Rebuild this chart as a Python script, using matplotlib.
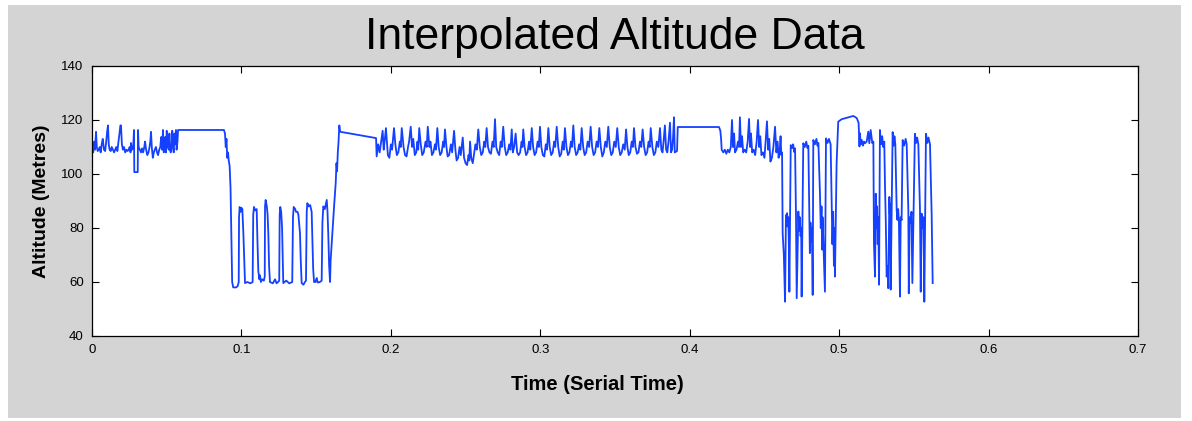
import matplotlib
matplotlib.use("Agg")
import matplotlib.pyplot as plt
from matplotlib.patches import Rectangle

# (time, altitude) samples, one list per stretch
start_noise = [
    (0.0000, 110), (0.0008, 108), (0.0015, 112), (0.0020, 109), (0.0027, 115.6),
    (0.0032, 110), (0.0038, 108.5), (0.0045, 109), (0.0052, 110), (0.0058, 108),
    (0.0065, 111), (0.0072, 113), (0.0080, 109), (0.0088, 108.5), (0.0095, 112),
    (0.0102, 116), (0.0107, 118), (0.0112, 111), (0.0118, 109), (0.0125, 108.5),
    (0.0132, 110), (0.0140, 109), (0.0148, 108), (0.0155, 109), (0.0162, 110),
    (0.0170, 108.5), (0.0177, 112), (0.0184, 115), (0.0190, 118), (0.0194, 118),
    (0.0200, 111), (0.0207, 109), (0.0214, 110), (0.0222, 108), (0.0230, 109),
    (0.0238, 108.5), (0.0245, 109), (0.0252, 110), (0.0258, 108), (0.0261, 111.5),
    (0.0268, 109), (0.0276, 110), (0.0281, 116.3), (0.0283, 100.7), (0.0306, 100.7),
    (0.0308, 116.3), (0.0312, 110), (0.0320, 109), (0.0328, 108), (0.0335, 109.5),
    (0.0342, 108), (0.0350, 110), (0.0355, 112), (0.0362, 109), (0.0370, 107),
    (0.0378, 108), (0.0385, 110), (0.0390, 112), (0.0395, 115.6), (0.0400, 110),
    (0.0407, 106), (0.0414, 108), (0.0420, 109), (0.0428, 110), (0.0435, 108),
    (0.0442, 107), (0.0450, 109), (0.0457, 110), (0.0463, 113.7), (0.0470, 109),
    (0.0475, 116.3), (0.0480, 108), (0.0486, 109), (0.0490, 113.7), (0.0495, 108),
    (0.0500, 116), (0.0507, 110), (0.0514, 109), (0.0518, 115), (0.0522, 109),
    (0.0527, 108), (0.0532, 110), (0.0537, 116), (0.0542, 110), (0.0547, 108),
    (0.0552, 115), (0.0557, 111), (0.0562, 116.3), (0.0566, 109), (0.0572, 112),
    (0.0576, 116.3), (0.0883, 116.3), (0.0890, 115), (0.0895, 110), (0.0900, 113),
    (0.0905, 106), (0.0910, 108), (0.0915, 105), (0.0921, 103), (0.0927, 95),
    (0.0932, 78), (0.0938, 60), (0.0945, 58), (0.0965, 58),
]

low_pulses = [
    (0.0975, 58.5), (0.0982, 60), (0.0984, 84), (0.0988, 87.8), (0.0995, 86),
    (0.1000, 87.5), (0.1006, 87), (0.1013, 78), (0.1018, 70), (0.1024, 59.6),
    (0.1040, 60), (0.1060, 59.5), (0.1075, 60), (0.1079, 85), (0.1084, 87.8),
    (0.1092, 86.5), (0.1102, 87), (0.1107, 75.6), (0.1113, 64), (0.1120, 61),
    (0.1124, 62.5), (0.1130, 60), (0.1138, 61), (0.1150, 60.5), (0.1156, 62),
    (0.1158, 88), (0.1162, 90.4), (0.1170, 88), (0.1175, 85), (0.1180, 78),
    (0.1185, 66), (0.1191, 60), (0.1210, 59.5), (0.1225, 61), (0.1235, 59.5),
    (0.1245, 60), (0.1253, 60.5), (0.1256, 85), (0.1260, 87.8), (0.1266, 86),
    (0.1272, 80), (0.1276, 70), (0.1280, 59.6), (0.1300, 60.5), (0.1320, 59.5),
    (0.1340, 60), (0.1345, 84), (0.1350, 87.8), (0.1360, 87), (0.1365, 86),
    (0.1375, 86), (0.1381, 85), (0.1392, 78), (0.1397, 68), (0.1403, 59.6),
    (0.1415, 59), (0.1425, 60), (0.1432, 60.5), (0.1437, 86), (0.1441, 89.2),
    (0.1450, 88), (0.1460, 88.5), (0.1470, 86), (0.1475, 75.6), (0.1480, 65),
    (0.1486, 60), (0.1495, 60), (0.1504, 61.5), (0.1510, 59.8), (0.1525, 60),
    (0.1537, 60.5), (0.1542, 82), (0.1548, 88), (0.1558, 87), (0.1571, 90.4),
    (0.1576, 86), (0.1581, 78), (0.1587, 66), (0.1593, 60), (0.1597, 68),
    (0.1611, 80.4), (0.1620, 88), (0.1631, 96.7), (0.1636, 104), (0.1640, 101),
    (0.1645, 108), (0.1650, 112), (0.1655, 118), (0.1660, 116), (0.1664, 115.6),
    (0.1727, 115), (0.1901, 113.3),
]

mid_ripple = [
    (0.1905, 106.5), (0.1915, 111), (0.1925, 108), (0.1945, 116), (0.1952, 109),
    (0.1960, 113), (0.1967, 117), (0.1980, 107), (0.1990, 106), (0.2000, 111),
    (0.2008, 109), (0.2021, 117), (0.2030, 111), (0.2040, 107), (0.2050, 108),
    (0.2060, 112), (0.2066, 110), (0.2073, 117), (0.2085, 110), (0.2095, 107),
    (0.2105, 106.5), (0.2115, 110), (0.2122, 112), (0.2133, 117.5), (0.2142, 110),
    (0.2150, 113), (0.2160, 107), (0.2170, 108), (0.2178, 112), (0.2183, 109),
    (0.2190, 117), (0.2200, 111), (0.2210, 107), (0.2220, 108), (0.2232, 112),
    (0.2240, 110), (0.2247, 117.5), (0.2258, 110), (0.2265, 112), (0.2275, 107),
    (0.2285, 108), (0.2295, 111), (0.2302, 109), (0.2311, 117), (0.2320, 110),
    (0.2330, 107), (0.2340, 108), (0.2350, 112), (0.2356, 110), (0.2362, 116.5),
    (0.2372, 110), (0.2380, 106.5), (0.2390, 107), (0.2402, 111), (0.2410, 108),
    (0.2423, 116), (0.2432, 109), (0.2440, 105), (0.2450, 106), (0.2460, 110),
    (0.2468, 107), (0.2481, 113.5), (0.2490, 106), (0.2500, 104), (0.2510, 103.3),
    (0.2520, 107), (0.2525, 105), (0.2530, 112), (0.2538, 106), (0.2548, 104),
    (0.2558, 108), (0.2566, 111), (0.2575, 109), (0.2585, 116.5), (0.2595, 110),
    (0.2605, 107), (0.2615, 108), (0.2625, 112), (0.2632, 110), (0.2641, 117),
    (0.2650, 110), (0.2660, 108), (0.2670, 107.5), (0.2680, 112), (0.2688, 110),
    (0.2697, 120.3), (0.2705, 110), (0.2715, 108), (0.2725, 107), (0.2735, 112),
    (0.2742, 110), (0.2752, 117.5), (0.2762, 110), (0.2772, 107), (0.2782, 108),
    (0.2792, 111), (0.2800, 109), (0.2809, 116.5), (0.2816, 108), (0.2825, 110),
    (0.2835, 115), (0.2845, 108), (0.2855, 107), (0.2865, 108), (0.2875, 112),
    (0.2880, 110), (0.2886, 116.5), (0.2895, 110), (0.2905, 107), (0.2915, 108),
    (0.2925, 112), (0.2933, 109), (0.2943, 117), (0.2952, 110), (0.2962, 107),
    (0.2972, 108), (0.2982, 112), (0.2990, 110), (0.2998, 117.5), (0.3007, 110),
    (0.3017, 107), (0.3027, 106.5), (0.3037, 111), (0.3045, 109), (0.3054, 117),
    (0.3063, 110), (0.3073, 107), (0.3083, 108), (0.3093, 112), (0.3100, 110),
    (0.3110, 117.5), (0.3120, 110), (0.3130, 106.5), (0.3140, 107.5), (0.3150, 112),
    (0.3157, 109), (0.3165, 117), (0.3175, 110), (0.3185, 107), (0.3195, 108),
    (0.3205, 112), (0.3212, 110), (0.3221, 118), (0.3230, 110), (0.3240, 107),
    (0.3250, 108), (0.3260, 111), (0.3268, 109), (0.3277, 117), (0.3287, 110),
    (0.3297, 107), (0.3307, 108), (0.3317, 112), (0.3327, 110), (0.3337, 117.5),
    (0.3347, 110), (0.3357, 107), (0.3367, 108), (0.3377, 112), (0.3386, 110),
    (0.3395, 117), (0.3405, 110), (0.3415, 106.5), (0.3425, 108), (0.3435, 112),
    (0.3445, 110), (0.3455, 117.5), (0.3465, 110), (0.3475, 107), (0.3485, 108),
    (0.3495, 112), (0.3505, 110), (0.3515, 117), (0.3525, 110), (0.3535, 107),
    (0.3545, 108), (0.3555, 111), (0.3565, 109), (0.3574, 116.5), (0.3583, 110),
    (0.3592, 107), (0.3602, 108), (0.3612, 112), (0.3620, 110), (0.3627, 117),
    (0.3637, 110), (0.3647, 107.5), (0.3657, 108), (0.3667, 112), (0.3676, 110),
    (0.3685, 116.5), (0.3695, 110), (0.3705, 107), (0.3715, 108), (0.3725, 112),
    (0.3732, 110), (0.3739, 117), (0.3750, 110), (0.3760, 107), (0.3770, 108),
    (0.3780, 112), (0.3790, 110), (0.3801, 117), (0.3810, 109), (0.3818, 108),
    (0.3825, 112), (0.3834, 118), (0.3842, 109), (0.3850, 108), (0.3858, 112),
    (0.3868, 119), (0.3875, 108), (0.3882, 109), (0.3888, 113), (0.3895, 121),
    (0.3900, 108), (0.3915, 108.5), (0.3920, 117.4),
]

plateau_ripple = [
    (0.3923, 117.4), (0.4196, 117.4), (0.4205, 116), (0.4210, 113), (0.4214, 109),
    (0.4225, 108), (0.4235, 109), (0.4245, 107.5), (0.4255, 109), (0.4265, 108),
    (0.4275, 110), (0.4283, 120), (0.4290, 110), (0.4297, 115), (0.4303, 108),
    (0.4313, 109), (0.4323, 112), (0.4330, 110), (0.4336, 121), (0.4343, 110),
    (0.4350, 114), (0.4358, 108), (0.4368, 109), (0.4378, 108), (0.4388, 112),
    (0.4397, 120.4), (0.4404, 110), (0.4410, 115), (0.4418, 108), (0.4428, 109),
    (0.4438, 107), (0.4448, 112), (0.4457, 120), (0.4465, 110), (0.4472, 114),
    (0.4480, 107), (0.4490, 108), (0.4500, 106), (0.4508, 112), (0.4517, 119.5),
    (0.4525, 109), (0.4532, 113), (0.4540, 104.6), (0.4550, 106), (0.4560, 110),
    (0.4571, 117.5), (0.4580, 108), (0.4588, 112), (0.4595, 106), (0.4603, 109),
    (0.4608, 114), (0.4613, 107), (0.4618, 108),
]

deep_swings = [
    (0.4622, 78), (0.4630, 70), (0.4638, 52.7), (0.4644, 84.8), (0.4648, 81),
    (0.4652, 85.5), (0.4656, 80.6), (0.4660, 84), (0.4664, 72), (0.4667, 56.4),
    (0.4676, 110.7), (0.4685, 109.6), (0.4692, 111), (0.4700, 108.1), (0.4705, 109.5),
    (0.4711, 85.5), (0.4716, 54), (0.4727, 86.1), (0.4732, 79), (0.4737, 84),
    (0.4742, 77), (0.4746, 80), (0.4749, 54.6), (0.4760, 111.4), (0.4770, 110),
    (0.4780, 112), (0.4788, 109.6), (0.4794, 110.5), (0.4800, 86.8), (0.4804, 70.7),
    (0.4808, 82), (0.4813, 75), (0.4818, 80), (0.4823, 55.2), (0.4827, 112.6),
    (0.4838, 111), (0.4848, 113), (0.4855, 110.5), (0.4861, 111.5), (0.4872, 92.1),
    (0.4877, 80), (0.4882, 88), (0.4886, 72), (0.4889, 84), (0.4905, 56.4),
    (0.4912, 113.2), (0.4922, 111.5), (0.4932, 113), (0.4943, 111), (0.4950, 89.0),
    (0.4955, 74), (0.4960, 86), (0.4965, 66), (0.4968, 80), (0.4972, 62),
    (0.4983, 104), (0.4994, 119.4), (0.5017, 120.3), (0.5095, 121.5), (0.5118, 120.7),
    (0.5130, 119), (0.5133, 115.1), (0.5136, 110.2),
]

end_swings = [
    (0.5139, 115.1), (0.5145, 111), (0.5151, 112.6), (0.5160, 110.5), (0.5166, 112),
    (0.5173, 111.4), (0.5184, 112), (0.5195, 115.7), (0.5202, 111.4), (0.5211, 116.3),
    (0.5222, 111.4), (0.5229, 112), (0.5233, 74.3), (0.5240, 62), (0.5245, 92.7),
    (0.5250, 80), (0.5254, 88), (0.5258, 74), (0.5262, 84), (0.5267, 59),
    (0.5273, 116.3), (0.5280, 111), (0.5288, 114), (0.5295, 110), (0.5302, 112),
    (0.5307, 95.2), (0.5312, 82.9), (0.5318, 62), (0.5325, 66), (0.5329, 57.7),
    (0.5336, 91.5), (0.5339, 85.3), (0.5342, 89), (0.5345, 57.2), (0.5358, 115.5),
    (0.5365, 110.5), (0.5370, 114), (0.5376, 111), (0.5385, 86.6), (0.5390, 83),
    (0.5395, 87), (0.5400, 82.5), (0.5407, 54.6), (0.5412, 84), (0.5418, 82.9),
    (0.5425, 112.6), (0.5435, 110.5), (0.5445, 113), (0.5452, 111), (0.5463, 86.6),
    (0.5466, 55.8), (0.5472, 84), (0.5478, 82), (0.5484, 86), (0.5490, 59.6),
    (0.5507, 114.9), (0.5515, 111.5), (0.5522, 113.5), (0.5530, 111), (0.5541, 86.6),
    (0.5546, 56.4), (0.5552, 85.3), (0.5558, 80), (0.5564, 84), (0.5570, 52.7),
    (0.5581, 114.9), (0.5590, 111.5), (0.5598, 113.5), (0.5608, 111), (0.5619, 85.3),
    (0.5626, 59.6),
]

x_ticks = [0, 0.1, 0.2, 0.3, 0.4, 0.5, 0.6, 0.7]
x_tick_labels = ["0", "0.1", "0.2", "0.3", "0.4", "0.5", "0.6", "0.7"]
y_ticks = [40, 60, 80, 100, 120, 140]

samples = start_noise + low_pulses + mid_ripple + plateau_ripple + deep_swings + end_swings
time = [s[0] for s in samples]
altitude = [s[1] for s in samples]

plt.rcParams['font.family'] = ['Liberation Sans', 'DejaVu Sans']

W, H = 1192, 421
fig = plt.figure(figsize=(W / 100, H / 100), dpi=100, facecolor='white')
# grey MATLAB figure window
fig.patches.append(Rectangle((8 / W, 3 / H), (1181 - 8) / W, (416 - 3) / H,
                             transform=fig.transFigure, facecolor='#d4d4d4',
                             edgecolor='none', zorder=-10))

ax = fig.add_axes([92 / W, (H - 336) / H, (1138 - 92) / W, 270 / H])
ax.plot(time, altitude, color='#1440ff', linewidth=1.3)

ax.set_xlim(0, 0.7)
ax.set_ylim(40, 140)
ax.set_xticks(x_ticks)
ax.set_xticklabels(x_tick_labels)
ax.set_yticks(y_ticks)
ax.tick_params(direction='in', length=5, width=0.8, top=True, right=True,
               labelsize=9.5, pad=6)
for sp in ax.spines.values():
    sp.set_linewidth(0.9)

ax.set_title("Interpolated Altitude Data", fontsize=32, pad=12)
ax.set_xlabel("Time (Serial Time)", fontsize=14.5, fontweight='bold')
ax.xaxis.set_label_coords((597 - 92) / (1138 - 92), -0.143, transform=ax.transAxes)
ax.xaxis.label.set_verticalalignment('top')
ax.set_ylabel("Altitude (Metres)", fontsize=14, fontweight='bold', labelpad=8)

fig.savefig("out.png", dpi=100, facecolor=fig.get_facecolor())
